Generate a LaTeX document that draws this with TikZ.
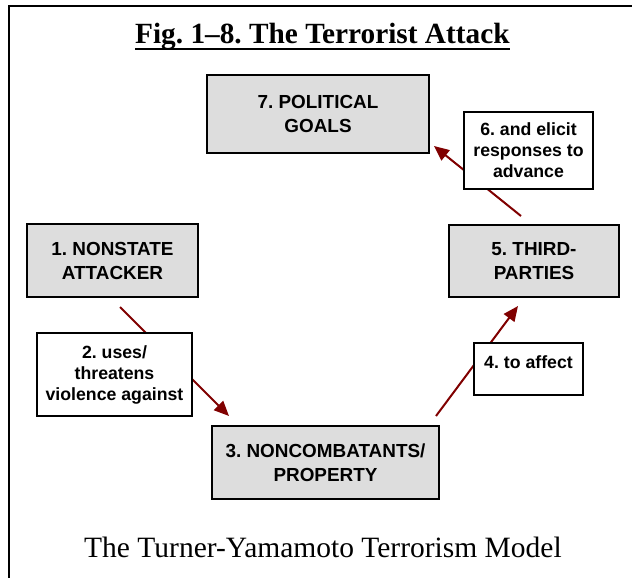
\documentclass[tikz,border=0pt]{standalone}
\usepackage{fontspec}
\setmainfont{Liberation Serif}
\newfontfamily\arialfont{Liberation Sans}
\usetikzlibrary{arrows.meta}
\frenchspacing
\definecolor{arrowred}{RGB}{128,0,0}
\definecolor{boxgray}{RGB}{221,221,221}
\tikzset{
  mainbox/.style={draw=black, line width=2pt, fill=boxgray, inner sep=0pt, align=center,
    font=\arialfont\bfseries\fontsize{18.9}{24}\selectfont},
  labelbox/.style={draw=black, line width=1.5pt, fill=white, inner sep=0pt, align=center,
    font=\arialfont\bfseries\fontsize{17.7}{21}\selectfont},
  flow/.style={draw=arrowred, line width=2pt, -{Triangle[length=15pt,width=13pt]}}
}
\begin{document}
\begin{tikzpicture}[x=1pt,y=-1pt]
\useasboundingbox (0,0) rectangle (632,578);
% frame
\coordinate (fl) at (9,578);
\coordinate (fc) at (9,6);
\coordinate (fr) at (632,6);
\draw[line width=2pt] (fl) -- (fc) -- (fr);
% title
\node[anchor=base west, inner sep=0pt, font=\bfseries\fontsize{29.3}{34}\selectfont] (title) at (135,44) {Fig. 1–8. The Terrorist Attack};
\draw[line width=2pt] ([yshift=-5.5pt]title.base west) -- ([yshift=-5.5pt]title.base east);
% main boxes
\node[mainbox, minimum width=222pt, minimum height=78pt] (b7) at (318,114) {7. POLITICAL\\GOALS};
\node[mainbox, minimum width=171pt, minimum height=73pt] (b1) at (112.5,260.5) {1. NONSTATE\\ATTACKER};
\node[mainbox, minimum width=227pt, minimum height=73pt] (b3) at (325.5,462.5) {3. NONCOMBATANTS/\\PROPERTY};
\node[mainbox, minimum width=170pt, minimum height=72pt] (b5) at (534,261) {5. THIRD-\\PARTIES};
% arrows
\coordinate (a1s) at (120,307);
\coordinate (a1e) at (229,416);
\coordinate (a3s) at (436,416);
\coordinate (a3e) at (518,306);
\coordinate (a5s) at (521,216);
\coordinate (a5e) at (434,146);
\draw[flow] (a1s) -- (a1e);
\draw[flow] (a3s) -- (a3e);
\draw[flow] (a5s) -- (a5e);
% labels
\node[labelbox, minimum width=155pt, minimum height=83pt] (l2) at (114.5,374.5) {2. uses/\\threatens\\violence against};
\node[labelbox, minimum width=109pt, minimum height=52pt] (l4) at (528.5,369) {};
\node[anchor=base, inner sep=0pt, font=\arialfont\bfseries\fontsize{17.7}{21}\selectfont] (t4) at (528.5,368.5) {4. to affect};
\node[labelbox, minimum width=129pt, minimum height=77pt] (l6) at (528.5,150.5) {6. and elicit\\responses to\\advance};
% caption
\node[anchor=base west, inner sep=0pt, font=\fontsize{29.5}{34}\selectfont] (cap) at (84,557) {The Turner-Yamamoto Terrorism Model};
\end{tikzpicture}
\end{document}
